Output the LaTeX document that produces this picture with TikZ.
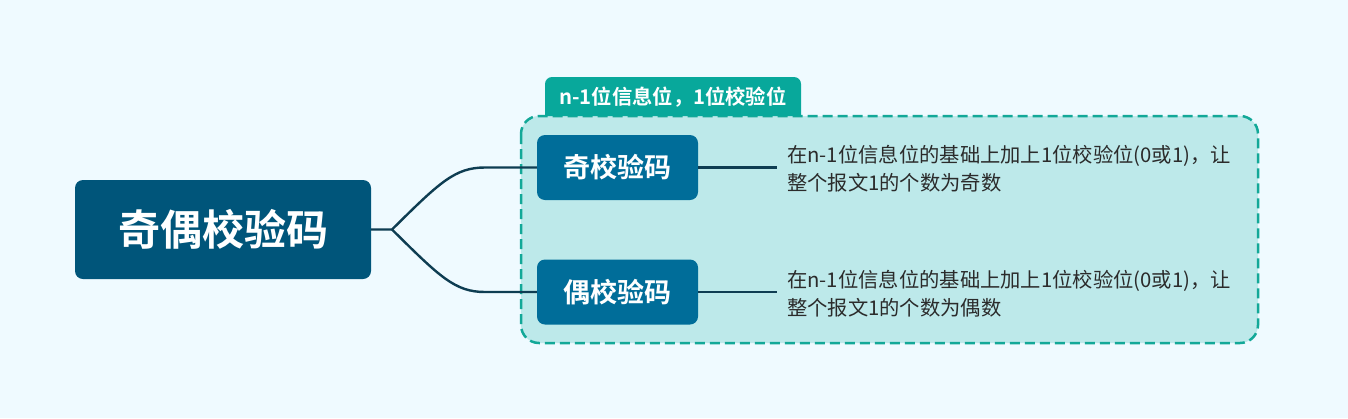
\documentclass[tikz,border=0pt]{standalone}
\usepackage{fontspec}
\newfontfamily\cjk{Noto Sans CJK SC}
\newfontfamily\cjkb{Noto Sans CJK SC Bold}
\definecolor{bgcol}{HTML}{EFFAFF}
\definecolor{rootcol}{HTML}{00557A}
\definecolor{childcol}{HTML}{006D99}
\definecolor{tabcol}{HTML}{08A89B}
\definecolor{groupfill}{HTML}{BDE9EA}
\definecolor{groupline}{HTML}{13A898}
\definecolor{linkcol}{HTML}{0E3D52}
\definecolor{txtcol}{HTML}{2B2B2B}
\tikzset{
  rootbox/.style={fill=rootcol, rounded corners=8pt, text=white, minimum width=296pt, minimum height=99pt, inner sep=0pt, font=\cjkb\fontsize{42}{50}\selectfont},
  childbox/.style={fill=childcol, rounded corners=8pt, text=white, minimum width=161pt, minimum height=65pt, inner sep=0pt, font=\cjkb\fontsize{27}{32}\selectfont},
  desc/.style={text=txtcol, align=left, anchor=west, inner sep=0pt, font=\cjk\fontsize{20.3}{28}\selectfont},
  link/.style={draw=linkcol, line width=2.4pt},
}
\begin{document}
\begin{tikzpicture}[x=1pt,y=-1pt]
\fill[bgcol] (0,0) rectangle (1348,418);
\useasboundingbox (0,0) rectangle (1348,418);
% group
\draw[fill=groupfill, draw=groupline, line width=2.5pt, dash pattern=on 10pt off 5pt, rounded corners=18pt] (521,116) rectangle (1258,343);
% tab
\fill[tabcol] (545,116) [rounded corners=7pt] -- (545,77) -- (801,77) [sharp corners] -- (801,116) -- cycle;
\node[text=white, font=\cjkb\fontsize{20.3}{24}\selectfont, inner sep=0pt] (tab) at (673,97) {n-1位信息位，1位校验位};
% nodes
\node[rootbox] (root) at (223,229.5) {奇偶校验码};
\node[childbox] (c1) at (617.5,167.5) {奇校验码};
\node[childbox] (c2) at (617.5,292) {偶校验码};
\coordinate (j) at (392,229.5);
\coordinate (e1) at (777,167.5);
\coordinate (e2) at (777,292);
\node[desc] (t1) at (787,169) {在n-1位信息位的基础上加上1位校验位(0或1)，让\\整个报文1的个数为奇数};
\node[desc] (t2) at (787,293.5) {在n-1位信息位的基础上加上1位校验位(0或1)，让\\整个报文1的个数为偶数};
% links
\draw[link] (root.east) -- (j) .. controls (440,182) and (455,167.5) .. (485,167.5) -- (c1.west);
\draw[link] (j) .. controls (440,277) and (455,292) .. (485,292) -- (c2.west);
\draw[link] (c1.east) -- (e1);
\draw[link] (c2.east) -- (e2);
\end{tikzpicture}
\end{document}
